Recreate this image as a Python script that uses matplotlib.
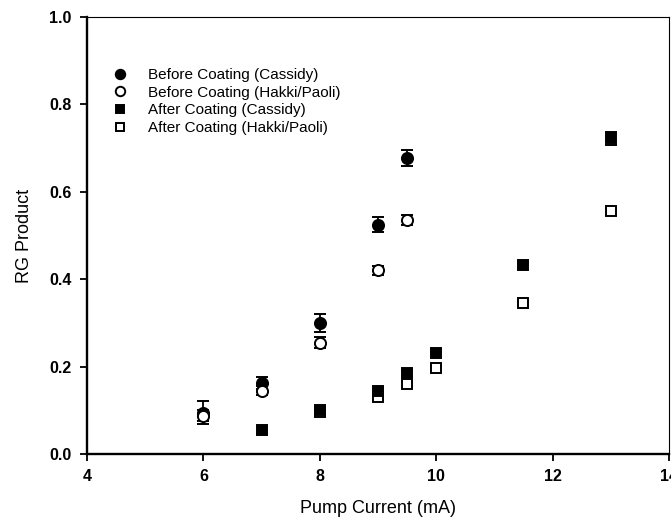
import matplotlib
matplotlib.use("Agg")
import matplotlib.pyplot as plt

plt.rcParams['font.family'] = ['Liberation Sans', 'DejaVu Sans']

# Before coating, Cassidy method
bc_x = [6, 7, 8, 9, 9.5]
bc_y = [0.095, 0.163, 0.300, 0.525, 0.677]
bc_err = [0.027, 0.014, 0.020, 0.018, 0.018]

# Before coating, Hakki/Paoli method
bh_x = [6, 7, 8, 9, 9.5]
bh_y = [0.088, 0.145, 0.255, 0.420, 0.535]
bh_err = [0.012, 0.010, 0.012, 0.010, 0.012]

# After coating, Cassidy method
ac_x = [7, 8, 9, 9.5, 10, 11.5, 13]
ac_y = [0.055, 0.100, 0.145, 0.185, 0.232, 0.433, 0.722]
ac_err = [0.006, 0.007, 0.007, 0.007, 0.006, 0.007, 0.014]

# After coating, Hakki/Paoli method
ah_x = [8, 9, 9.5, 10, 11.5, 13]
ah_y = [0.097, 0.130, 0.160, 0.196, 0.345, 0.555]
ah_err = [0.005, 0.006, 0.006, 0.006, 0.006, 0.007]

labels = ["Before Coating (Cassidy)", "Before Coating (Hakki/Paoli)",
          "After Coating (Cassidy)", "After Coating (Hakki/Paoli)"]

x_ticks = [4, 6, 8, 10, 12, 14]
y_ticks = [0.0, 0.2, 0.4, 0.6, 0.8, 1.0]

fig = plt.figure(figsize=(6.71, 5.26), dpi=100)
ax = fig.add_axes([0.1297, 0.1368, 0.8673, 0.8309])

common = dict(linestyle='none', ecolor='black', elinewidth=1.3, capsize=4,
              capthick=1.3, markeredgecolor='black', markeredgewidth=1.4)

ax.errorbar(bc_x, bc_y, yerr=bc_err, marker='o', markersize=8,
            markerfacecolor='black', label=labels[0], **common)
ax.errorbar(bh_x, bh_y, yerr=bh_err, marker='o', markersize=8,
            markerfacecolor='white', label=labels[1], **common)
ax.errorbar(ah_x, ah_y, yerr=ah_err, marker='s', markersize=7,
            markerfacecolor='white', label=labels[3], **common)
ax.errorbar(ac_x, ac_y, yerr=ac_err, marker='s', markersize=7,
            markerfacecolor='black', label=labels[2], **common)

ax.set_xlim(4, 14)
ax.set_ylim(0, 1.0)
ax.set_xticks(x_ticks)
ax.set_yticks(y_ticks)
ax.set_xticklabels([str(v) for v in x_ticks], fontweight='bold', fontsize=11.5)
ax.set_yticklabels([f"{v:.1f}" for v in y_ticks], fontweight='bold', fontsize=11.5)
ax.tick_params(direction='out', length=5, width=1.3, pad=6)

for side in ('left', 'bottom'):
    ax.spines[side].set_linewidth(1.7)
for side in ('top', 'right'):
    ax.spines[side].set_linewidth(0.8)

ax.set_xlabel("Pump Current (mA)", fontsize=13, labelpad=11)
ax.set_ylabel("RG Product", fontsize=13, labelpad=12)

handles, labs = ax.get_legend_handles_labels()
order = [labs.index(l) for l in labels]
hs = [handles[i][0] for i in order]
leg = ax.legend(hs, labels, loc='upper left', bbox_to_anchor=(0.02, 0.915),
                frameon=False, fontsize=11, handletextpad=1.3,
                labelspacing=0.24, handlelength=1.0, markerscale=0.85)

fig.savefig("out.png", dpi=100)
